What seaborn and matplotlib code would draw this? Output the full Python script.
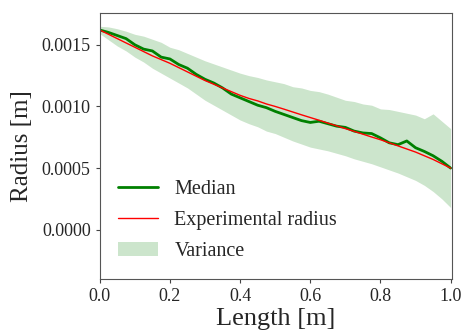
import numpy as np
import pandas as pd
import seaborn as sns
import matplotlib.pyplot as plt

# longitud [m]
length = [0.000, 0.025, 0.050, 0.075, 0.100, 0.125, 0.150, 0.175, 0.200, 0.225,
          0.250, 0.275, 0.300, 0.325, 0.350, 0.375, 0.400, 0.425, 0.450, 0.475,
          0.500, 0.525, 0.550, 0.575, 0.600, 0.625, 0.650, 0.675, 0.700, 0.725,
          0.750, 0.775, 0.800, 0.825, 0.850, 0.875, 0.900, 0.925, 0.950, 0.975,
          1.000]

median = [0.001620, 0.001600, 0.001575, 0.001550, 0.001500, 0.001465, 0.001450, 0.001400, 0.001385, 0.001340,
          0.001310, 0.001260, 0.001220, 0.001190, 0.001150, 0.001100, 0.001070, 0.001040, 0.001010, 0.000990,
          0.000960, 0.000935, 0.000910, 0.000885, 0.000870, 0.000880, 0.000860, 0.000840, 0.000830, 0.000800,
          0.000785, 0.000780, 0.000745, 0.000705, 0.000690, 0.000720, 0.000665, 0.000635, 0.000600, 0.000555,
          0.000500]

experimental = [0.001620, 0.001585, 0.001550, 0.001515, 0.001480, 0.001445, 0.001410, 0.001380, 0.001350, 0.001315,
                0.001280, 0.001245, 0.001210, 0.001180, 0.001150, 0.001120, 0.001090, 0.001065, 0.001045, 0.001020,
                0.001000, 0.000978, 0.000955, 0.000932, 0.000910, 0.000888, 0.000865, 0.000843, 0.000820, 0.000798,
                0.000775, 0.000752, 0.000730, 0.000705, 0.000680, 0.000655, 0.000630, 0.000600, 0.000570, 0.000535,
                0.000500]

upper = [0.001650, 0.001645, 0.001630, 0.001610, 0.001585, 0.001570, 0.001545, 0.001520, 0.001480, 0.001460,
         0.001430, 0.001400, 0.001370, 0.001345, 0.001320, 0.001295, 0.001270, 0.001250, 0.001235, 0.001215,
         0.001200, 0.001185, 0.001160, 0.001150, 0.001130, 0.001120, 0.001100, 0.001075, 0.001050, 0.001040,
         0.001020, 0.001010, 0.000980, 0.000975, 0.000960, 0.000945, 0.000930, 0.000900, 0.000940, 0.000880,
         0.000820]

lower = [0.001590, 0.001540, 0.001490, 0.001450, 0.001400, 0.001360, 0.001310, 0.001270, 0.001230, 0.001190,
         0.001150, 0.001100, 0.001050, 0.001010, 0.000970, 0.000930, 0.000890, 0.000860, 0.000835, 0.000800,
         0.000780, 0.000750, 0.000720, 0.000695, 0.000670, 0.000655, 0.000640, 0.000620, 0.000600, 0.000575,
         0.000555, 0.000535, 0.000510, 0.000485, 0.000460, 0.000430, 0.000400, 0.000360, 0.000310, 0.000250,
         0.000180]

df = pd.DataFrame({
    "length": length,
    "median": median,
    "experimental": experimental,
    "upper": upper,
    "lower": lower,
})

sns.set_style("ticks")
plt.rcParams["font.family"] = ["Liberation Serif", "DejaVu Serif"]

fig, ax = plt.subplots(figsize=(4.64, 3.35), dpi=100)

sns.lineplot(data=df, x="length", y="median", color="green", linewidth=2, label="Median", ax=ax)
sns.lineplot(data=df, x="length", y="experimental", color="red", linewidth=1, label="Experimental radius", ax=ax)
ax.fill_between(df["length"], df["lower"], df["upper"], color="green", alpha=0.2, linewidth=0, label="Variance")

ax.set_xlim(0, 1.005)
ax.set_ylim(-0.0004, 0.00176)
ax.set_yticks([0.0, 0.0005, 0.0010, 0.0015])
ax.set_yticklabels(["0.0000", "0.0005", "0.0010", "0.0015"])
ax.set_xticks([0.0, 0.2, 0.4, 0.6, 0.8, 1.0])
ax.tick_params(labelsize=13, length=3, color="#444444")
for s in ax.spines.values():
    s.set_color("#555555")

ax.set_xlabel("Length [m]", fontsize=19, labelpad=2)
ax.set_ylabel("Radius [m]", fontsize=18, labelpad=6)
ax.legend(loc="lower left", frameon=False, fontsize=14.5, bbox_to_anchor=(0.0, 0.0),
          labelspacing=0.6, handlelength=2.0)

plt.subplots_adjust(left=0.215, right=0.975, top=0.962, bottom=0.167)
plt.savefig("out.png", dpi=100)
